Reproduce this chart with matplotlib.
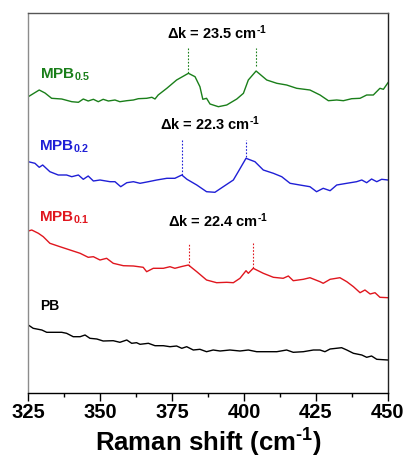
import numpy as np
import matplotlib
matplotlib.use("Agg")
import matplotlib.pyplot as plt
from matplotlib.ticker import MultipleLocator

plt.rcParams['font.family'] = ['Liberation Sans', 'DejaVu Sans']
# all math text in this figure is bold Arial-like
plt.rcParams['mathtext.fontset'] = 'custom'
plt.rcParams['mathtext.rm'] = 'Liberation Sans:bold'
plt.rcParams['mathtext.it'] = 'Liberation Sans:bold'
plt.rcParams['mathtext.bf'] = 'Liberation Sans:bold'

# Raman spectra (wavenumber in cm-1, intensity in a.u., stacked)
wn_05 = [325.1, 328.9, 330.9, 333.2, 336.7, 340.2, 342.5, 344.2, 345.9, 347.7, 349.4, 351.1,
         352.9, 355.2, 356.9, 359.3, 361.6, 363.3, 366.2, 368.0, 369.1, 370.2, 373.2, 376.6,
         380.7, 383.0, 384.7, 385.7, 387.0, 388.2, 391.1, 394.0, 397.5, 399.8, 401.5, 404.2,
         407.9, 411.4, 414.8, 418.3, 422.9, 426.4, 429.3, 432.2, 434.5, 437.4, 440.3, 442.6,
         444.9, 447.2, 448.4, 450.0]
int_05 = [296.3, 303, 300, 294.7, 294, 291.3, 290.7, 294, 292, 293.7, 291.3, 293.7,
          292, 293, 291.3, 292.3, 293, 294.3, 294.7, 295.7, 294, 298, 304.7, 313,
          319.7, 316.3, 306.3, 293.7, 294.7, 289, 286.3, 288, 294, 299.7, 313, 322,
          313, 309.7, 308, 304.7, 303, 298, 292.3, 293, 292.3, 294.3, 294.7, 298,
          298, 304.7, 303.7, 310.3]

wn_02 = [325.1, 327.4, 328.9, 330.1, 332.6, 335.5, 338.4, 340.2, 342.5, 344.2, 345.9, 347.7,
         350.0, 353.5, 355.2, 357.2, 359.3, 361.6, 363.9, 366.8, 369.7, 373.2, 376.0, 378.4,
         380.2, 383.6, 387.0, 389.9, 392.8, 396.3, 398.0, 400.7, 403.8, 406.7, 410.2, 413.1,
         416.0, 419.4, 422.9, 425.2, 427.5, 429.9, 432.2, 435.7, 439.1, 440.9, 442.6, 444.3,
         446.1, 447.8, 450.0]
int_02 = [231.3, 229.7, 225.7, 228, 221.3, 218, 218, 216.3, 218, 213.7, 217, 212,
          213, 211.3, 211.3, 206.3, 210.3, 211.3, 209.7, 211.3, 213, 214.7, 214.7, 218,
          213.7, 208, 201.3, 200.7, 206.3, 213, 221.3, 234.7, 231.3, 223, 219.7, 216.3,
          209.7, 208, 206.3, 201.3, 204.7, 202.3, 208, 209.7, 211.3, 213, 210.3, 214,
          211.3, 213.7, 213]

wn_01 = [325.1, 326.3, 328.6, 330.3, 332.6, 336.1, 339.6, 343.1, 345.9, 347.7, 350.0, 352.3,
         354.6, 358.1, 361.6, 365.0, 366.2, 368.5, 372.0, 374.3, 376.0, 378.4, 380.7, 383.6,
         387.0, 390.5, 394.0, 396.3, 398.6, 400.7, 401.5, 403.2, 406.7, 410.2, 413.6, 415.4,
         417.1, 420.6, 422.9, 426.4, 427.5, 429.9, 433.3, 435.7, 438.0, 440.3, 442.0, 443.8,
         445.5, 447.2, 450.0]
int_01 = [162, 163, 159.7, 156.3, 149.7, 146.3, 143, 139.7, 135.7, 136.3, 133, 134.7,
          129.7, 127.3, 127, 125.7, 121.3, 124.7, 124.7, 126.3, 124.7, 126.5, 128, 121.3,
          113, 110.3, 110.7, 110.3, 114.7, 122.3, 119.7, 124.7, 119.7, 115.7, 114.7, 117,
          112.3, 113.7, 115.3, 111.3, 109.7, 113.7, 115.3, 111.3, 106.3, 100.3, 103, 99,
          100.3, 95.7, 95.3]

wn_pb = [325.1, 326.8, 329.8, 331.5, 333.8, 336.7, 338.4, 340.7, 343.1, 344.8, 346.5, 348.9,
         351.1, 354.6, 356.9, 359.3, 361.0, 362.7, 363.9, 366.8, 369.1, 372.0, 374.3, 376.6,
         378.4, 380.1, 382.4, 384.7, 387.0, 389.3, 391.7, 395.1, 398.6, 401.5, 404.4, 407.9,
         411.4, 414.8, 417.1, 420.6, 424.1, 426.4, 428.1, 429.9, 433.9, 435.7, 438.0, 440.9,
         442.6, 444.3, 446.1, 450.0]
int_pb = [68, 64.7, 63, 60.7, 60.7, 60.7, 59.7, 56.3, 56.3, 58, 54.7, 54,
          52, 52.3, 50.7, 53, 49.7, 50.3, 48.7, 49.7, 47.3, 47.3, 46.3, 47,
          44.7, 46.3, 43, 43.7, 41.3, 43, 42, 43, 42, 43, 41.3, 41.3,
          41.3, 43, 40.7, 41.3, 43, 43, 41.3, 44, 45.3, 43, 39.7, 38,
          35.7, 37, 33.7, 33]

# peak positions marked with dotted lines (cm-1)
peaks_05 = [380.7, 404.2]
peaks_02 = [378.4, 400.7]
peaks_01 = [380.8, 403.2]

green = '#1a7f1a'
blue = '#1f1fd6'
red = '#e0161e'

cm1 = r'cm$^{\text{-}1}$'

fig = plt.figure(figsize=(4.07, 4.61), dpi=100)
ax = fig.add_axes([0.0688, 0.1475, 0.8845, 0.8243])

ax.plot(wn_05, int_05, color=green, lw=1.0)
ax.plot(wn_02, int_02, color=blue, lw=1.0)
ax.plot(wn_01, int_01, color=red, lw=1.0)
ax.plot(wn_pb, int_pb, color='black', lw=1.0)

ax.vlines(peaks_05, [320.3, 327], 345.3, colors=green, linestyles=(0, (1.5, 1.5)), lw=0.8)
ax.vlines(peaks_02, [218, 236], 253, colors=blue, linestyles=(0, (1.5, 1.5)), lw=0.8)
ax.vlines(peaks_01, [127, 125], 150.3, colors=red, linestyles=(0, (1.5, 1.5)), lw=0.8)

ax.text(390.5, 360, 'Δk = 23.5 ' + cm1, ha='center', va='center',
        fontsize=10.5, fontweight='bold')
ax.text(388.2, 269, 'Δk = 22.3 ' + cm1, ha='center', va='center',
        fontsize=10.5, fontweight='bold')
ax.text(391.0, 172, 'Δk = 22.4 ' + cm1, ha='center', va='center',
        fontsize=10.5, fontweight='bold')

ax.text(329.2, 314.7, r'$\mathrm{MPB}_{0.5}$', color=green, fontsize=11, va='baseline')
ax.text(328.8, 242.3, r'$\mathrm{MPB}_{0.2}$', color=blue, fontsize=11, va='baseline')
ax.text(328.9, 171.3, r'$\mathrm{MPB}_{0.1}$', color=red, fontsize=11, va='baseline')
ax.text(329.2, 83, 'PB', color='black', fontsize=10, fontweight='bold', va='baseline')

ax.set_xlim(325, 450)
ax.set_ylim(0, 380)
ax.set_yticks([])
ax.xaxis.set_major_locator(MultipleLocator(25))
ax.xaxis.set_minor_locator(MultipleLocator(12.5))
ax.tick_params(axis='x', which='major', direction='out', length=6, width=1, labelsize=14.5, pad=1.5)
ax.tick_params(axis='x', which='minor', direction='out', length=3, width=1)
for lab in ax.get_xticklabels():
    lab.set_fontweight('bold')

ax.spines['left'].set_color('#8c8c8c')
ax.spines['top'].set_color('#555555')
ax.spines['right'].set_color('#222222')
ax.spines['bottom'].set_color('black')
for s in ax.spines.values():
    s.set_linewidth(1.0)

ax.set_xlabel('Raman shift (' + cm1 + ')', fontsize=18.5, fontweight='bold', labelpad=3)

fig.savefig('out.png', dpi=100)
